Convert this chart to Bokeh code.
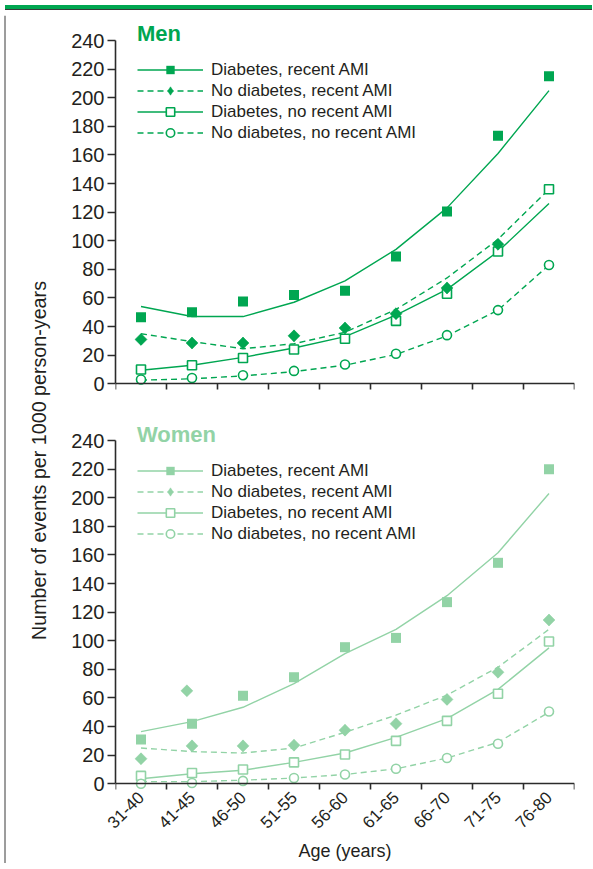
import math
from bokeh.plotting import figure
from bokeh.layouts import column, row
from bokeh.models import (Range1d, FixedTicker, Legend, LegendItem, Label, Span, Div,
                          LinearAxis, CustomJSTickFormatter)
from bokeh.embed import file_html
from bokeh.resources import INLINE

# ---------------- data ----------------
age_groups = ["31-40", "41-45", "46-50", "51-55", "56-60", "61-65", "66-70", "71-75", "76-80"]
series_labels = ["Diabetes, recent AMI", "No diabetes, recent AMI",
                 "Diabetes, no recent AMI", "No diabetes, no recent AMI"]
y_ticks = [0, 20, 40, 60, 80, 100, 120, 140, 160, 180, 200, 220, 240]
NaN = float("nan")

# Men: observed rates (markers)
men_diab_recent = [46.5, 50, 57.5, 62, 65, 89, 120.5, 173.5, 215]
men_nodiab_recent = [31, 28.5, 28.5, 33.5, 39, 49, 67, 97.5, NaN]
men_diab_norecent = [10, 13, 18, 24, 31.5, 44, 63, 92.5, 136]
men_nodiab_norecent = [3, 4, 6, 9, 13.5, 21, 34, 51.5, 83]
# Men: fitted curves (lines)
men_diab_recent_fit = [54, 47, 47, 57, 72, 94, 123, 161, 205]
men_nodiab_recent_fit = [35, 29.5, 24.5, 28, 36, 52, 74, 101, 136]
men_diab_norecent_fit = [9.5, 13, 18.5, 25, 33, 48, 66, 92.5, 126]
men_nodiab_norecent_fit = [2.5, 3.5, 5.5, 8.5, 13, 20.5, 33.5, 51.5, 83]

# Women: observed rates (markers)
women_diab_recent = [31, 42, 61.5, 74.5, 95.5, 102, 127, 154.5, 220]
women_nodiab_recent = [17.5, 26.5, 26.5, 27, 37.5, 42, 59, 78, 114.5]
women_diab_norecent = [5.5, 7.5, 10, 15, 20.5, 30, 44, 63, 99.5]
women_nodiab_norecent = [0, 0.5, 2, 4, 6.5, 10.5, 18, 28, 50.5]
# extra diamond printed in the original at 41-45
women_nodiab_recent_extra_group = "41-45"
women_nodiab_recent_extra_value = 65
# Women: fitted curves (lines)
women_diab_recent_fit = [36.5, 43.5, 53.5, 70, 91, 108, 131.5, 161.5, 203]
women_nodiab_recent_fit = [25, 22.5, 21.5, 25, 36, 48, 62, 81.5, 108]
women_diab_norecent_fit = [3.5, 7, 9.5, 15, 21.5, 32.5, 45.5, 66, 95]
women_nodiab_norecent_fit = [1.5, 1.5, 2.5, 4, 6.5, 10.5, 18, 29, 50]

# ---------------- styling ----------------
FONT = "Liberation Sans"
TEXT = "#231f20"
AXIS = "#2b2b2b"
MEN_COLOR = "#00a651"
WOMEN_COLOR = "#92d3a6"

xs = [i + 0.5 for i in range(len(age_groups))]
bounds = list(range(len(age_groups) + 1))


def make_panel(title, color, obs, fits, extra=None, top_border=2, bottom_border=27,
               show_labels=False, legend_loc=(23, 246)):
    p = figure(frame_width=459, frame_height=372,
               x_range=Range1d(0, len(age_groups)), y_range=Range1d(-4, 256.1),
               output_backend="svg", toolbar_location=None,
               min_border_left=63, min_border_right=13,
               min_border_top=top_border, min_border_bottom=bottom_border)
    p.outline_line_color = None
    p.grid.visible = False

    # y axis
    ya = p.yaxis[0]
    ya.ticker = FixedTicker(ticks=y_ticks, minor_ticks=[])
    ya.bounds = (0, 240)
    ya.axis_line_color = AXIS
    ya.axis_line_width = 1.6
    ya.major_tick_line_color = AXIS
    ya.major_tick_line_width = 1.6
    ya.major_tick_out = 8
    ya.major_tick_in = 0
    ya.minor_tick_out = 0
    ya.major_label_standoff = 3
    ya.major_label_text_font = FONT
    ya.major_label_text_font_size = "20px"
    ya.major_label_text_color = TEXT

    # x axis line at y = 0 with tick marks at the category boundaries
    xa = p.xaxis[0]
    xa.ticker = FixedTicker(ticks=xs, minor_ticks=bounds)
    xa.fixed_location = 0
    xa.axis_line_color = AXIS
    xa.axis_line_width = 1.6
    xa.major_tick_out = 0
    xa.major_tick_in = 0
    xa.minor_tick_line_color = AXIS
    xa.minor_tick_line_width = 1.6
    xa.minor_tick_out = 8
    xa.minor_tick_in = 0
    xa.major_label_overrides = {x: "" for x in xs}
    xa.major_label_text_font_size = "1px"
    xa.major_label_standoff = 0

    if show_labels:
        la = LinearAxis(ticker=FixedTicker(ticks=xs, minor_ticks=[]),
                        formatter=CustomJSTickFormatter(args=dict(labels=age_groups),
                                                        code="return labels[Math.floor(tick)] || ''"))
        la.axis_line_color = None
        la.major_tick_line_color = None
        la.minor_tick_line_color = None
        la.major_tick_out = 0
        la.major_tick_in = 0
        la.major_label_orientation = math.pi / 4
        la.major_label_text_font = FONT
        la.major_label_text_font_size = "17px"
        la.major_label_text_color = TEXT
        la.major_label_standoff = 5
        la.axis_label = "Age (years)"
        la.axis_label_text_font = FONT
        la.axis_label_text_font_size = "18px"
        la.axis_label_text_font_style = "normal"
        la.axis_label_text_color = TEXT
        la.axis_label_standoff = 4
        p.add_layout(la, "below")

    dashes = ["solid", "6 4", "solid", "6 4"]
    lines = []
    for f, d in zip(fits, dashes):
        lines.append(p.line(xs, f, line_color=color, line_width=1.4, line_dash=d))

    s_dr = p.scatter(xs, obs[0], marker="square", size=10, fill_color=color, line_color=color, line_width=0)
    s_dn = p.scatter(xs, obs[2], marker="square", size=9, fill_color="white", line_color=color, line_width=1.6)
    s_nn = p.scatter(xs, obs[3], marker="circle", size=9, fill_color="white", line_color=color, line_width=1.6)
    # diamond symbol: a narrow diamond (used for the legend) covered by a square turned 45 degrees
    s_nr = p.scatter(xs, obs[1], marker="diamond", size=11, fill_color=color, line_color=color, line_width=0.5)
    p.scatter(xs, obs[1], marker="square", angle=math.pi / 4, size=8.5,
              fill_color=color, line_color=color, line_width=0.5)
    if extra is not None:
        gi = age_groups.index(extra[0])
        p.scatter([xs[gi] - 0.1], [extra[1]], marker="square", angle=math.pi / 4, size=8.5,
                  fill_color=color, line_color=color, line_width=0.5)

    scat = [s_dr, s_nr, s_dn, s_nn]
    items = [LegendItem(label=lab, renderers=[ln, sc]) for lab, ln, sc in zip(series_labels, lines, scat)]
    leg = Legend(items=items, location=legend_loc, title=title,
                 title_text_font=FONT, title_text_font_size="22px", title_text_font_style="bold",
                 title_text_color=color, title_standoff=12,
                 label_text_font=FONT, label_text_font_size="17px", label_text_color=TEXT,
                 glyph_width=66, glyph_height=21, label_height=18, label_standoff=8,
                 spacing=0, padding=0, margin=0,
                 border_line_color=None, background_fill_alpha=0)
    p.add_layout(leg)
    return p


men = make_panel("Men", MEN_COLOR,
                 [men_diab_recent, men_nodiab_recent, men_diab_norecent, men_nodiab_norecent],
                 [men_diab_recent_fit, men_nodiab_recent_fit, men_diab_norecent_fit, men_nodiab_norecent_fit],
                 top_border=2, bottom_border=27, show_labels=False, legend_loc=(22, 246))
women = make_panel("Women", WOMEN_COLOR,
                   [women_diab_recent, women_nodiab_recent, women_diab_norecent, women_nodiab_norecent],
                   [women_diab_recent_fit, women_nodiab_recent_fit, women_diab_norecent_fit,
                    women_nodiab_norecent_fit],
                   extra=(women_nodiab_recent_extra_group, women_nodiab_recent_extra_value),
                   top_border=1, bottom_border=74, show_labels=True, legend_loc=(22, 245))

# left strip carrying the shared y-axis title
H = 848
lab = figure(width=52, height=H, x_range=Range1d(0, 52), y_range=Range1d(0, H),
             output_backend="svg", toolbar_location=None, x_axis_type=None, y_axis_type=None,
             min_border=0)
lab.outline_line_color = None
lab.grid.visible = False
lab.add_layout(Span(location=4.5, dimension="height", line_color="#3a3a3a", line_width=1))
lab.add_layout(Label(x=38, y=403, text="Number of events per 1000 person-years", angle=math.pi / 2,
                     text_align="center", text_baseline="middle", text_font=FONT,
                     text_font_size="19.7px", text_color=TEXT))

band = Div(width=587, height=5,
           styles={"background": "linear-gradient(to bottom, #00a651 0px, #00a651 4px, #3a3a3a 4px, #3a3a3a 5px)"})

layout = column(band, row(lab, column(men, women, spacing=0), spacing=0), spacing=0)

open("out.html", "w").write(file_html(layout, INLINE))
